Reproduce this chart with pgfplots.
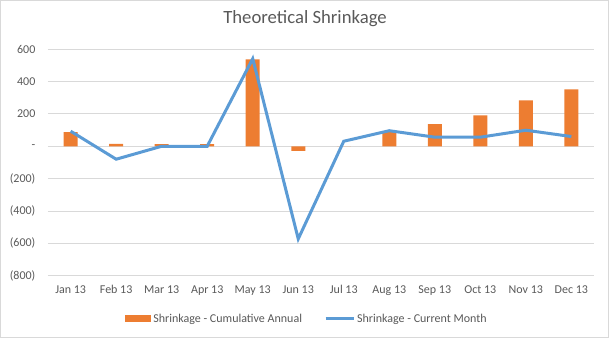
\documentclass[border=0pt]{standalone}
\usepackage{pgfplots}
\pgfplotsset{compat=1.18}
\usepackage{fontspec}
\setmainfont{Carlito}
\definecolor{xorange}{HTML}{ED7D31}
\definecolor{xblue}{HTML}{5B9BD5}
\definecolor{xgray}{HTML}{595959}
\definecolor{xgrid}{HTML}{D9D9D9}
\begin{document}
\begin{tikzpicture}[x=1bp,y=1bp]
\draw[xgrid, line width=0.75bp, use as bounding box] (0.5,0.5) rectangle (608.5,337.5);
\node[font=\fontsize{18.7bp}{22bp}\selectfont, text=xgray] at (305,319) {Theoretical Shrinkage};
\begin{axis}[
  at={(48bp,62.2bp)}, anchor=south west,
  scale only axis, width=546bp, height=226.6bp,
  xmin=-0.5, xmax=11.5, ymin=-800, ymax=600,
  xtick={0,...,11},
  xticklabels={Jan 13,Feb 13,Mar 13,Apr 13,May 13,Jun 13,Jul 13,Aug 13,Sep 13,Oct 13,Nov 13,Dec 13},
  ytick={-800,-600,-400,-200,0,200,400,600},
  yticklabels={(800),(600),(400),(200),-,200,400,600},
  /pgf/number format/assume math mode=true,
  ticklabel style={font=\fontsize{12bp}{14bp}\selectfont, text=xgray},
  yticklabel style={xshift=-9bp},
  xticklabel style={yshift=-6bp},
  major tick length=0pt,
  axis line style={draw=none},
  ymajorgrids, grid style={xgrid, line width=0.75bp},
  legend columns=2,
  legend style={draw=none, at={(0.5,-0.15)}, anchor=north, xshift=-14bp, font=\fontsize{12bp}{14bp}\selectfont, text=xgray,
    /tikz/every even column/.append style={column sep=20bp}},
  clip=false,
]
\addplot[ybar, bar width=14bp, fill=xorange, draw=none,
  legend image code/.code={\fill[xorange] (0bp,-3.5bp) rectangle (26bp,3.5bp);}]
  coordinates {(0,88) (1,15) (2,13) (3,13) (4,537) (5,-29) (6,0) (7,94) (8,136) (9,191) (10,284) (11,352)};
\addlegendentry{Shrinkage - Cumulative Annual}
\addplot[xblue, line width=3bp, sharp plot, mark=none,
  legend image code/.code={\draw[xblue, line width=3bp] (0bp,0bp) -- (28bp,0bp);}]
  coordinates {(0,93) (1,-80) (2,0) (3,0) (4,541) (5,-572) (6,31) (7,96) (8,56) (9,56) (10,99) (11,60)};
\addlegendentry{Shrinkage - Current Month}
\end{axis}
\end{tikzpicture}
\end{document}
